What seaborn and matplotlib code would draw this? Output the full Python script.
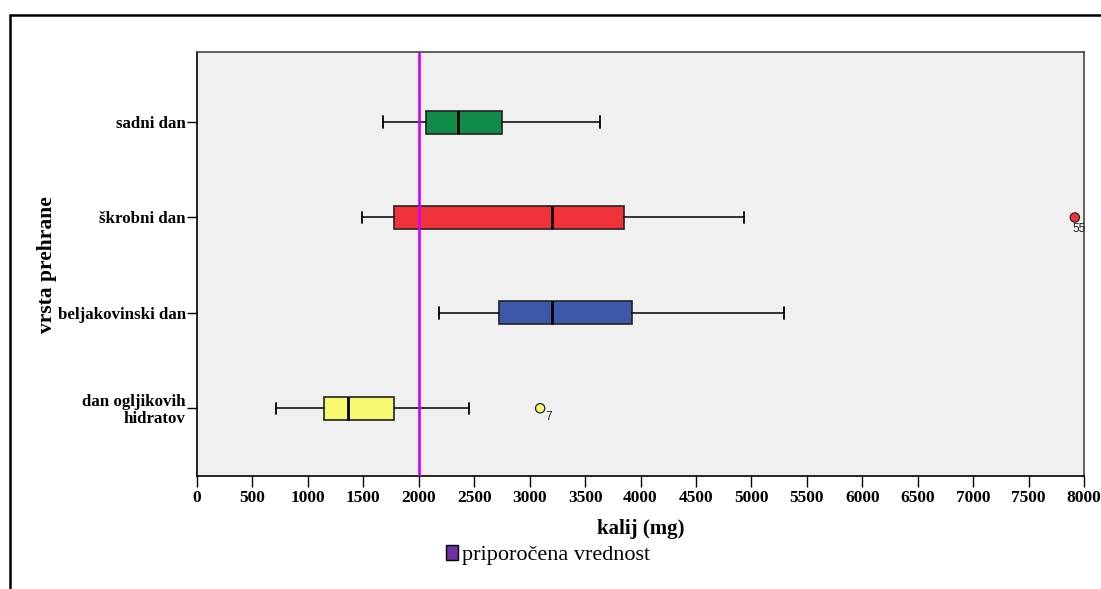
import matplotlib
matplotlib.use("Agg")
import matplotlib.pyplot as plt
from matplotlib.lines import Line2D
from matplotlib.patches import Patch
import numpy as np
import pandas as pd
import seaborn as sns

# Diet types (top to bottom)
categories = ["sadni dan", "škrobni dan", "beljakovinski dan", "dan ogljikovih\nhidratov"]

# Five-number summaries of potassium intake (mg)
whisker_low = [1677, 1485, 2182, 710]
q1 = [2065, 1776, 2726, 1142]
median = [2350, 3205, 3198, 1366]
q3 = [2753, 3853, 3925, 1781]
whisker_high = [3634, 4932, 5293, 2457]

# Outliers: category index, value, case number
outlier_cat = [1, 3]
outlier_val = [7917, 3095]
outlier_case = ["55", "7"]

box_colors = ["#108C48", "#F0323A", "#3D58AB", "#F9F871"]

recommended = 2000
x_ticks = list(range(0, 8001, 500))

sns.set_theme(style="white")
plt.rcParams["font.family"] = ["Liberation Serif", "DejaVu Serif"]
plt.rcParams["text.color"] = "black"
plt.rcParams["axes.labelcolor"] = "black"
plt.rcParams["xtick.color"] = "black"
plt.rcParams["ytick.color"] = "black"

fig = plt.figure(figsize=(11.01, 5.89), dpi=100)
ax = fig.add_axes([0.1789, 0.1919, 0.9846 - 0.1789, 0.9109 - 0.1919])
ax.set_facecolor("#F0F0F0")

stats = []
for i in range(len(categories)):
    stats.append(dict(whislo=whisker_low[i], q1=q1[i], med=median[i],
                      q3=q3[i], whishi=whisker_high[i], fliers=[]))

bp = ax.bxp(stats, positions=np.arange(len(categories)), orientation="horizontal",
            widths=0.24, patch_artist=True, showfliers=False,
            boxprops=dict(edgecolor="#222222", linewidth=1.2),
            medianprops=dict(color="black", linewidth=2),
            whiskerprops=dict(color="black", linewidth=1.1),
            capprops=dict(color="black", linewidth=1.3), capwidths=0.12)
for patch, c in zip(bp["boxes"], box_colors):
    patch.set_facecolor(c)

# Outlying cases
out_df = pd.DataFrame({"val": outlier_val, "cat": outlier_cat,
                       "color": [box_colors[c] for c in outlier_cat]})
sns.scatterplot(data=out_df, x="val", y="cat", hue="color", palette={c: c for c in out_df["color"]},
                s=45, edgecolor="#222222", linewidth=0.9, legend=False, ax=ax, zorder=5)
label_offsets = [(-2, -4), (4, -2)]
for v, c, lab, off in zip(outlier_val, outlier_cat, outlier_case, label_offsets):
    ax.annotate(lab, (v, c), xytext=off, textcoords="offset points",
                ha="left", va="top", fontsize=8.5,
                fontfamily=["Liberation Sans", "DejaVu Sans"], color="#222222")

# Recommended value
ax.axvline(recommended, color="#CC00FF", linewidth=1.9, zorder=3)

ax.set_xlim(0, 8000)
ax.set_ylim(3.71, -0.73)
ax.set_xticks(x_ticks)
ax.set_xticklabels([str(t) for t in x_ticks], fontweight="bold", fontsize=12.5)
ax.set_yticks(range(len(categories)))
ax.set_yticklabels(categories, fontweight="bold", fontsize=12.2, linespacing=1.1)
ax.tick_params(axis="x", direction="out", length=8, width=1, color="black", pad=2, bottom=True)
ax.tick_params(axis="y", direction="out", length=7, width=1, color="black", pad=1, left=True)
ax.set_xlabel("kalij (mg)", fontweight="bold", fontsize=15, labelpad=9.5)
ax.set_ylabel("vrsta prehrane", fontweight="bold", fontsize=15.5, labelpad=0.5)

for side in ["left", "bottom"]:
    ax.spines[side].set_color("black")
    ax.spines[side].set_linewidth(1.2)
for side in ["top", "right"]:
    ax.spines[side].set_color("#444444")
    ax.spines[side].set_linewidth(1.2)
    ax.spines[side].set_visible(True)

# Legend for the reference line
handle = Patch(facecolor="#7030A0", edgecolor="black", linewidth=1)
fig.legend([handle], ["priporočena vrednost"], loc="center left",
           bbox_to_anchor=(0.387, 0.0576), frameon=False, fontsize=16,
           handlelength=0.55, handleheight=0.7, handletextpad=0.15)

# Outer frame
fig.add_artist(Line2D([9.5 / 1101, 1.0], [1 - 14.5 / 589, 1 - 14.5 / 589],
                      transform=fig.transFigure, color="black", linewidth=1.8))
fig.add_artist(Line2D([9.5 / 1101, 9.5 / 1101], [0.0, 1 - 14.5 / 589],
                      transform=fig.transFigure, color="black", linewidth=1.8))

fig.savefig("out.png", dpi=100, facecolor="white")
